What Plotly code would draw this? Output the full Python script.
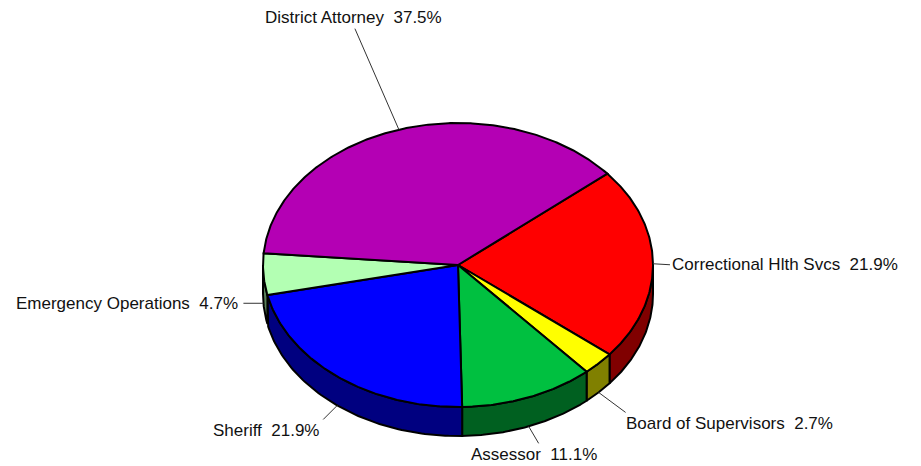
import numpy as np
import plotly.graph_objects as go

# Budget shares by department, in clockwise order starting at the upper-right cut
departments = ["Correctional Hlth Svcs", "Board of Supervisors", "Assessor",
               "Sheriff", "Emergency Operations", "District Attorney"]
shares = [21.9, 2.7, 11.1, 21.9, 4.7, 37.5]

top_colors = ["#FF0000", "#FFFF00", "#00C040", "#0000FF", "#B3FFB3", "#B400B4"]
side_colors = ["#800000", "#808000", "#006020", "#000080", "#5A805A", "#5A005A"]

# Pie geometry (pixel space of the plotting area)
CX, CY, RX, RY, DEPTH = 458, 265, 195, 142, 29
START_ANGLE = 40  # degrees, slices run clockwise from here

# Label leader offsets, text anchoring and text nudge per department
label_layout = {
    "Correctional Hlth Svcs": (17, 1, "left", "middle", -2),
    "Board of Supervisors": (27, 20, "left", "top", -4),
    "Assessor": (10, 17, "center", "top", -5),
    "Sheriff": (-14, 14, "right", "top", 0),
    "Emergency Operations": (-20, 0, "right", "middle", -1),
    "District Attorney": (-44, -101, "center", "bottom", -1),
}


def ellipse_pt(theta_deg, drop=0.0):
    t = np.radians(theta_deg)
    return CX + RX * np.cos(t), CY - RY * np.sin(t) + drop


total = float(sum(shares))
spans = [s / total * 360.0 for s in shares]
bounds = []
a = START_ANGLE
for sp in spans:
    bounds.append((a, a - sp))
    a -= sp

fig = go.Figure()

# Side walls: only the front half of the rim (angles between -180 and 0) is visible
for (a0, a1), col in zip(bounds, side_colors):
    hi, lo = min(a0, 0.0), max(a1, -180.0)
    if hi - lo <= 0.01:
        continue
    th = np.linspace(hi, lo, 80)
    xs_top, ys_top = ellipse_pt(th)
    xs_bot, ys_bot = ellipse_pt(th[::-1], DEPTH)
    xs = np.concatenate([xs_top, xs_bot, xs_top[:1]])
    ys = np.concatenate([ys_top, ys_bot, ys_top[:1]])
    fig.add_trace(go.Scatter(x=xs, y=ys, mode="lines", fill="toself",
                             fillcolor=col, line=dict(color="black", width=2),
                             hoverinfo="skip", showlegend=False))

# Top faces of the slices
for (a0, a1), col, name, s in zip(bounds, top_colors, departments, shares):
    th = np.linspace(a0, a1, max(int(abs(a0 - a1)) * 2, 8))
    xs, ys = ellipse_pt(th)
    xs = np.concatenate([[CX], xs, [CX]])
    ys = np.concatenate([[CY], ys, [CY]])
    fig.add_trace(go.Scatter(x=xs, y=ys, mode="lines", fill="toself",
                             fillcolor=col, line=dict(color="black", width=2),
                             name=name, text=f"{name}: {s}%", hoverinfo="text",
                             showlegend=False))

# Leader lines and labels
annotations = []
for (a0, a1), name, s in zip(bounds, departments, shares):
    mid = (a0 + a1) / 2.0
    drop = DEPTH if np.sin(np.radians(mid)) < 0 else 0.0
    x0, y0 = ellipse_pt(mid, drop)
    dx, dy, xa, ya, nudge = label_layout[name]
    x1, y1 = x0 + dx, y0 + dy
    fig.add_trace(go.Scatter(x=[x0, x1], y=[y0, y1], mode="lines",
                             line=dict(color="#333333", width=1),
                             hoverinfo="skip", showlegend=False))
    tx = x1 + (2 if xa == "left" else -2 if xa == "right" else 0) + nudge
    annotations.append(dict(x=tx, y=y1, xref="x", yref="y", showarrow=False,
                            text=f"{name} \u00a0{s}%", xanchor=xa, yanchor=ya,
                            font=dict(family="Liberation Sans, Arial, sans-serif",
                                      size=17, color="#111111")))

fig.update_layout(
    width=921, height=466,
    margin=dict(l=0, r=0, t=0, b=0),
    paper_bgcolor="white", plot_bgcolor="white",
    xaxis=dict(range=[0, 921], visible=False, fixedrange=True),
    yaxis=dict(range=[466, 0], visible=False, fixedrange=True),
    annotations=annotations,
)

fig.write_html("out.html")
